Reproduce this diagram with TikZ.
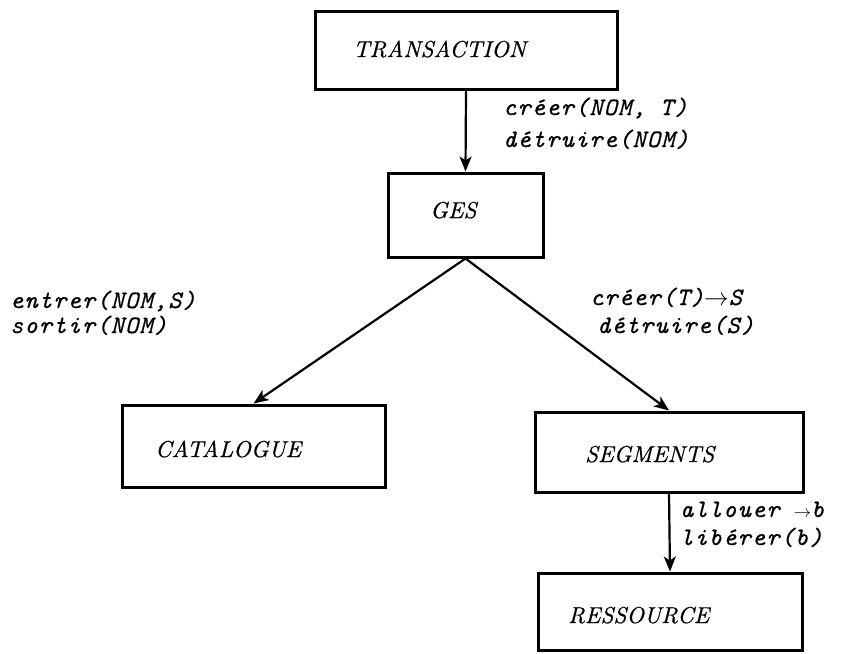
\documentclass[tikz,border=0pt]{standalone}
\usepackage{fontspec}
\usetikzlibrary{arrows.meta}
\newfontfamily\opfont[LetterSpace=5,FakeBold=0.6]{lmmono10-italic.otf}
\newfontfamily\namefont[FakeBold=0.6]{lmroman10-italic.otf}
\begin{document}
\begin{tikzpicture}[x=1pt,y=-1pt,
  box/.style={draw, line width=3pt, inner sep=0pt, rectangle},
  boxname/.style={anchor=base west, inner sep=0pt, font=\fontsize{23}{27}\selectfont\namefont},
  op/.style={anchor=base west, inner sep=0pt, font=\fontsize{25}{29}\selectfont\opfont},
  conn/.style={line width=2.2pt, -{Stealth[length=15pt,width=12pt,inset=4pt]}}]
\useasboundingbox (0,0) rectangle (842,653);
% boxes
\node[box, minimum width=302pt, minimum height=78pt] (trans) at (466,50) {};
\node[box, minimum width=155pt, minimum height=84pt] (ges) at (465.5,215) {};
\node[box, minimum width=263pt, minimum height=82pt] (cat) at (253.5,446) {};
\node[box, minimum width=268pt, minimum height=80pt] (seg) at (669,452) {};
\node[box, minimum width=264pt, minimum height=77pt] (res) at (670,611.5) {};
% box texts
\node[boxname] (transt) at (353,57) {TRANSACTION};
\node[boxname] (gest) at (430,218) {GES};
\node[boxname] (catt) at (155,457) {CATALOGUE};
\node[boxname] (segt) at (585,462) {SEGMENTS};
\node[boxname] (rest) at (568,623) {RESSOURCE};
% connectors
\draw[conn] (trans.south) -- (ges.north);
\draw[conn] (ges.south) -- (cat.north);
\draw[conn] (ges.south) -- (seg.north);
\draw[conn] (seg.south) -- (res.north);
% operation labels
\node[op] (l1a) at (503,115) {créer(NOM, T)};
\node[op] (l1b) at (503,147) {détruire(NOM)};
\node[op] (l2a) at (10,308) {entrer(NOM,S)};
\node[op] (l2b) at (10,333) {sortir(NOM)};
\node[op] (l3a) at (590,305) {créer(T)$\rightarrow$S};
\node[op] (l3b) at (597,333) {détruire(S)};
\node[op] (l4a) at (680,517) {allouer $\scriptstyle\rightarrow$b};
\node[op] (l4b) at (680,545) {libérer(b)};
\end{tikzpicture}
\end{document}
